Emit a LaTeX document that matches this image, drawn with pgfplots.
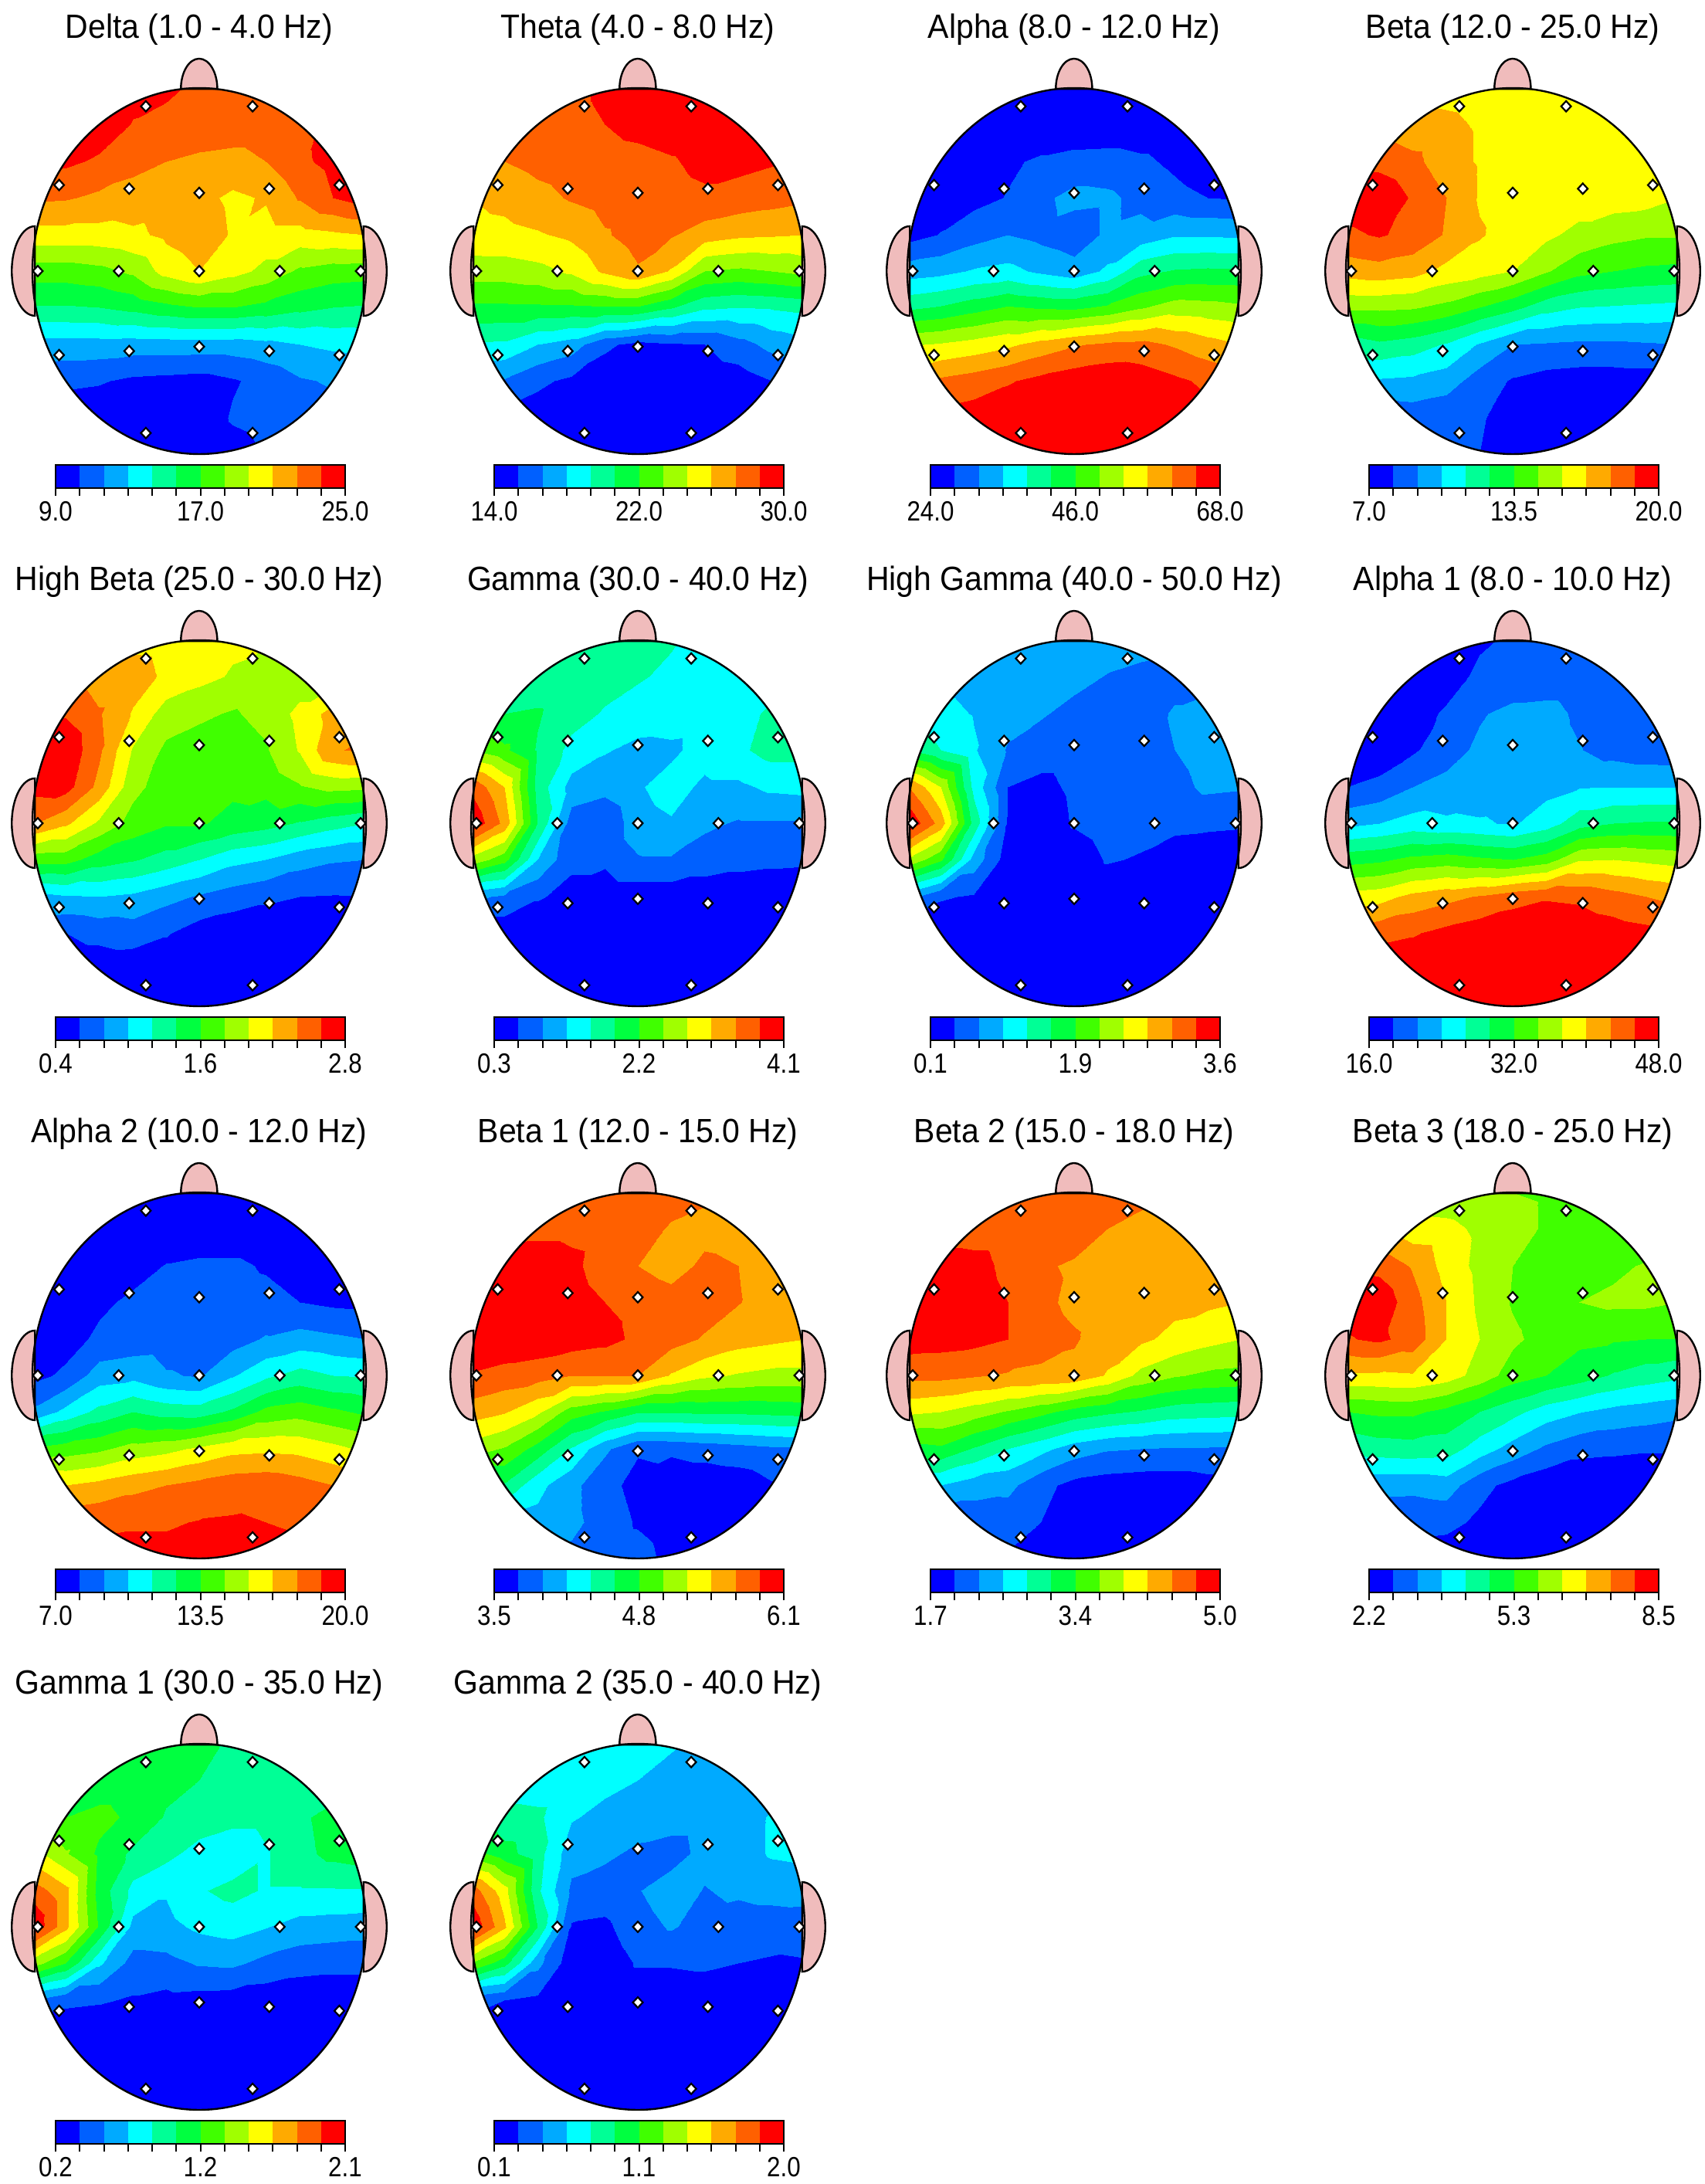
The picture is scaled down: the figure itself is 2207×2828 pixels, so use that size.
\documentclass[border=0pt]{standalone}
\usepackage{fontspec}
\setmainfont{Liberation Sans}
\usepackage{pgfplots}
\pgfplotsset{compat=1.18}

\definecolor{c0}{RGB}{0,0,255}
\definecolor{c1}{RGB}{0,96,255}
\definecolor{c2}{RGB}{0,170,255}
\definecolor{c3}{RGB}{0,255,255}
\definecolor{c4}{RGB}{0,255,150}
\definecolor{c5}{RGB}{0,255,64}
\definecolor{c6}{RGB}{64,255,0}
\definecolor{c7}{RGB}{160,255,0}
\definecolor{c8}{RGB}{255,255,0}
\definecolor{c9}{RGB}{255,170,0}
\definecolor{c10}{RGB}{255,96,0}
\definecolor{c11}{RGB}{255,0,0}
\definecolor{skin}{RGB}{240,188,188}

\pgfplotsset{
  colormap={eeg}{color=(c0) color=(c1) color=(c2) color=(c3) color=(c4) color=(c5)
    color=(c6) color=(c7) color=(c8) color=(c9) color=(c10) color=(c11)},
}

% grid goes row by row from y=1 down to y=-1, x=-1..1, step .2, values in colour bins 0..12
\newcommand\gridcoords[1]{%
  \gdef\cl{}%
  \foreach \v [count=\i from 0] in {#1}{%
    \pgfmathtruncatemacro\ix{mod(\i,11)}%
    \pgfmathtruncatemacro\iy{floor(\i/11)}%
    \pgfmathsetmacro\xx{-1+.2*\ix}%
    \pgfmathsetmacro\yy{1-.2*\iy}%
    \xdef\cl{\cl(\xx,\yy)[\v]}%
  }}

\newcommand\seg[2]{\addplot[draw=none,fill=c#1,forget plot] coordinates {(#1,0)(#1,1)(#2,1)(#2,0)} --cycle;}

% #1 cx, #2 cy (px from the bottom), #3 title, #4 #5 #6 bar labels, #7 grid
\newcommand\head[7]{%
  \gridcoords{#7}%
  \begin{axis}[at={({(#1)*.25pt},{(#2)*.25pt})},anchor=center,scale only axis,width=108pt,height=118.5pt,
    xmin=-1,xmax=1,ymin=-1,ymax=1,hide axis,clip=false,colormap name=eeg,
    point meta min=0,point meta max=12]
    \edef\tmp{\noexpand\addplot[contour filled={number=12},point meta=explicit,mesh/rows=11,mesh/cols=11] coordinates {\cl};}\tmp
    \fill[white,even odd rule] (axis cs:-1.03,-1.03) rectangle (axis cs:1.03,1.03) (axis cs:0,0) ellipse[x radius=54pt,y radius=59.25pt];
    \draw[fill=skin,line width=.6pt] (axis cs:-.985,.245) arc[start angle=90,end angle=270,x radius=7.5pt,y radius=14.5pt] --cycle;
    \draw[fill=skin,line width=.6pt] (axis cs:.985,-.245) arc[start angle=-90,end angle=90,x radius=7.5pt,y radius=14.5pt] --cycle;
    \draw[fill=skin,line width=.6pt] (axis cs:-.11,.995) arc[start angle=180,end angle=0,x radius=5.9pt,y radius=9.8pt] --cycle;
    \draw[line width=.6pt] (axis cs:0,0) ellipse[x radius=54pt,y radius=59.25pt];
    \addplot[only marks,mark=diamond*,mark size=1.7pt,mark options={fill=white,draw=black,line width=.55pt,xscale=1.25}] coordinates {
      (-.32,.9)(.32,.9)
      (-.84,.47)(-.42,.45)(0,.427)(.42,.45)(.84,.47)
      (-.968,0)(-.483,0)(0,0)(.483,0)(.968,0)
      (-.84,-.459)(-.42,-.437)(0,-.413)(.42,-.437)(.84,-.459)
      (-.32,-.885)(.32,-.885)};
  \end{axis}
  \begin{axis}[at={({(#1-186)*.25pt},{(#2-281)*.25pt})},anchor=south west,scale only axis,width=93.75pt,height=7.5pt,
    xmin=0,xmax=12,ymin=0,ymax=1,clip=false,axis on top,axis line style={line width=.7pt},
    ytick=\empty,xtick={0,...,12},
    xticklabels={#4,,,,,,#5,,,,,,#6},
    tick style={black,line width=.5pt},
    tick align=outside,xtick pos=bottom,major tick length=2.6pt,
    xticklabel style={font=\fontsize{9}{9}\selectfont,xscale=.87,yshift=1.7pt}]
    \seg{0}{1}\seg{1}{2}\seg{2}{3}\seg{3}{4}\seg{4}{5}\seg{5}{6}
    \seg{6}{7}\seg{7}{8}\seg{8}{9}\seg{9}{10}\seg{10}{11}\seg{11}{12}
  \end{axis}
  \node[font=\fontsize{10.9}{11}\selectfont,xscale=.94] at (#1,#2+313) {#3};
}

\begin{document}
\begin{tikzpicture}[x=.25pt,y=.25pt]
\useasboundingbox (0,0) rectangle (2207,2828);
\head{258}{2477}{Delta (1.0 - 4.0 Hz)}{9.0}{17.0}{25.0}{
11.5,11.4,11.3,11.3,11.2,10.8,10.5,10.5,10.5,10.5,10.5,
11.6,11.6,11.6,10.95,10.7,10.6,10.5,10.5,10.5,11.4,11.6,
11.4,11.2,10.85,10.3,10.0,9.8,9.7,10.0,10.8,11.3,11.5,
10.2,10.1,9.8,9.6,9.4,9.3,8.8,9.1,10.1,11.0,11.5,
8.6,8.6,8.6,8.8,9.2,9.6,8.9,8.6,8.6,8.8,9.0,
6.5,6.5,6.7,7.2,8.4,9.0,8.4,7.7,6.8,6.5,6.4,
4.9,4.9,5.0,5.3,5.7,6.0,6.0,5.7,5.3,5.0,4.9,
2.6,2.6,2.6,2.5,2.5,2.5,2.5,2.7,3.0,3.2,3.3,
1.3,1.2,1.1,0.8,0.7,0.6,0.9,1.3,1.9,2.1,2.3,
0.4,0.4,0.3,0.2,0.2,0.4,1.1,1.3,1.5,1.6,1.7,
0.2,0.2,0.2,0.2,0.2,0.2,0.6,1.1,1.3,1.3,1.3}
\head{826}{2477}{Theta (4.0 - 8.0 Hz)}{14.0}{22.0}{30.0}{
10.6,10.6,10.7,10.8,11.2,11.5,11.6,11.6,11.6,11.6,11.6,
10.4,10.4,10.5,10.7,11.0,11.3,11.5,11.6,11.6,11.6,11.6,
9.8,10.0,10.3,10.5,10.6,10.7,10.9,11.3,11.3,11.1,11.0,
9.0,9.3,9.7,10.1,10.4,10.5,10.6,10.8,10.6,10.4,10.2,
8.6,8.7,8.9,9.2,9.9,10.4,10.1,9.5,9.2,9.1,9.0,
7.5,7.5,7.7,8.2,9.2,9.9,8.9,7.0,6.8,7.0,7.3,
5.8,5.8,5.8,5.8,5.9,5.9,5.1,4.2,4.0,4.1,4.3,
3.9,3.8,3.0,2.5,1.2,0.7,0.9,1.0,1.6,2.3,2.7,
2.0,1.9,1.2,0.8,0.4,0.3,0.3,0.3,0.5,1.0,1.3,
1.0,0.8,0.5,0.3,0.2,0.2,0.2,0.2,0.2,0.4,0.6,
0.2,0.2,0.2,0.2,0.2,0.2,0.2,0.2,0.2,0.2,0.2}
\head{1391}{2477}{Alpha (8.0 - 12.0 Hz)}{24.0}{46.0}{68.0}{
0.3,0.3,0.3,0.3,0.3,0.3,0.3,0.3,0.3,0.3,0.3,
0.3,0.3,0.3,0.3,0.3,0.3,0.3,0.3,0.3,0.3,0.3,
0.2,0.3,0.5,0.85,1.15,1.35,1.4,1.2,0.8,0.4,0.3,
0.4,0.5,0.7,1.05,1.8,2.3,2.2,1.7,1.3,1.0,0.9,
0.6,1.05,1.6,2.0,1.7,1.4,2.2,2.4,2.9,2.9,2.8,
2.5,2.7,3.1,3.3,2.8,2.4,3.2,4.7,5.1,5.2,5.2,
4.8,5.1,5.6,6.1,5.9,5.8,6.2,6.9,7.5,7.4,7.2,
7.9,8.1,8.4,8.8,9.4,9.9,10.2,10.3,9.9,9.4,9.0,
9.7,10.2,10.5,10.9,11.3,11.6,11.8,11.6,11.2,10.8,10.6,
11.3,11.3,11.5,11.7,11.7,11.7,11.7,11.7,11.7,11.5,11.3,
11.7,11.7,11.7,11.7,11.7,11.7,11.7,11.7,11.7,11.7,11.7}
\head{1959}{2477}{Beta (12.0 - 25.0 Hz)}{7.0}{13.5}{20.0}{
8.9,8.9,8.8,8.7,8.6,8.5,8.5,8.5,8.5,8.5,8.5,
9.4,9.4,9.3,9.2,8.9,8.6,8.5,8.5,8.5,8.5,8.5,
10.8,10.7,10.3,9.4,8.9,8.6,8.5,8.5,8.5,8.5,8.5,
11.8,11.7,10.9,10.0,8.9,8.6,8.5,8.5,8.5,8.4,8.0,
10.8,11.1,10.7,9.9,9.1,8.5,8.2,7.7,7.3,7.1,7.1,
9.4,9.6,9.4,8.7,8.4,8.0,7.1,6.3,6.0,5.8,5.7,
7.2,7.2,7.1,6.7,6.0,5.3,4.4,4.0,3.9,3.8,3.7,
4.4,4.8,4.5,3.9,2.9,2.0,1.9,1.8,1.8,1.9,2.0,
2.9,2.9,2.8,2.5,1.5,0.9,0.6,0.5,0.5,0.5,0.7,
1.2,1.3,1.4,1.2,1.1,0.6,0.3,0.3,0.3,0.3,0.3,
1.1,1.1,1.1,1.0,1.0,0.6,0.3,0.2,0.2,0.2,0.2}
\head{258}{1762}{High Beta (25.0 - 30.0 Hz)}{0.4}{1.6}{2.8}{
8.6,8.6,8.6,8.7,8.6,8.4,8.2,8.1,8.1,8.1,8.1,
9.5,9.5,9.5,9.5,8.8,8.3,7.9,7.6,7.4,7.4,7.4,
11.0,10.9,10.1,8.9,7.5,7.2,6.9,7.3,8.3,9.4,9.6,
11.8,11.8,10.2,7.9,6.8,6.5,6.5,6.9,8.1,9.9,10.2,
11.3,11.4,9.7,7.3,6.5,6.3,6.2,6.3,6.9,7.3,7.2,
10.1,9.2,7.8,6.6,6.1,6.1,5.7,5.4,4.9,4.4,4.0,
6.5,6.4,5.5,5.1,4.6,4.0,3.3,3.0,2.4,2.1,2.0,
2.6,2.9,3.0,2.8,2.3,1.9,1.5,1.2,1.0,0.95,1.0,
1.2,1.0,1.3,1.5,1.1,0.5,0.3,0.3,0.3,0.3,0.3,
0.5,0.4,0.4,0.3,0.3,0.2,0.2,0.2,0.2,0.2,0.2,
0.2,0.2,0.2,0.2,0.2,0.2,0.2,0.2,0.2,0.2,0.2}
\head{826}{1762}{Gamma (30.0 - 40.0 Hz)}{0.3}{2.2}{4.1}{
4.4,4.4,4.4,4.4,4.4,4.4,4.1,3.7,3.5,3.5,3.5,
4.5,4.5,4.5,4.5,4.4,4.1,3.8,3.6,3.5,3.5,3.5,
5.0,5.0,5.1,4.4,3.9,3.6,3.5,3.4,3.6,4.2,4.4,
7.0,6.2,4.9,3.7,3.1,2.7,2.8,3.4,3.8,4.4,4.4,
10.8,9.0,4.6,2.6,2.3,2.9,3.4,2.8,2.8,3.2,3.3,
11.9,9.7,5.0,1.5,1.2,2.6,2.9,2.2,1.9,1.9,1.9,
7.7,6.4,3.0,1.2,1.2,1.9,1.9,1.5,1.3,1.2,1.15,
2.3,1.8,1.1,0.7,0.4,0.4,0.4,0.4,0.4,0.4,0.4,
0.3,0.3,0.3,0.3,0.3,0.2,0.2,0.2,0.2,0.2,0.2,
0.2,0.2,0.2,0.2,0.2,0.2,0.2,0.2,0.2,0.2,0.2,
0.2,0.2,0.2,0.2,0.2,0.2,0.2,0.2,0.2,0.2,0.2}
\head{1391}{1762}{High Gamma (40.0 - 50.0 Hz)}{0.1}{1.9}{3.6}{
2.6,2.6,2.6,2.6,2.6,2.6,2.5,2.3,2.2,2.1,2.1,
2.6,2.6,2.6,2.6,2.5,2.3,1.95,1.8,1.7,1.7,1.7,
3.4,3.3,2.95,2.4,2.1,1.7,1.6,1.6,2.1,2.3,2.3,
5.0,4.0,3.1,1.9,1.5,1.5,1.5,1.6,2.0,2.4,2.4,
10.1,8.0,3.7,1.0,0.7,1.2,1.5,1.5,1.7,2.2,2.1,
11.9,9.6,4.6,0.9,0.4,1.1,1.5,1.4,1.2,1.15,1.1,
7.9,6.2,2.6,0.5,0.3,0.4,1.1,0.9,0.6,0.5,0.4,
2.4,1.1,0.9,0.3,0.2,0.2,0.2,0.2,0.2,0.2,0.2,
0.5,0.3,0.2,0.2,0.2,0.2,0.2,0.2,0.2,0.2,0.2,
0.2,0.2,0.2,0.2,0.2,0.2,0.2,0.2,0.2,0.2,0.2,
0.2,0.2,0.2,0.2,0.2,0.2,0.2,0.2,0.2,0.2,0.2}
\head{1959}{1762}{Alpha 1 (8.0 - 10.0 Hz)}{16.0}{32.0}{48.0}{
0.6,0.6,0.6,0.7,0.9,1.1,1.2,1.2,1.2,1.2,1.2,
0.4,0.5,0.5,0.7,1.15,1.3,1.3,1.3,1.2,1.2,1.2,
0.3,0.4,0.7,1.1,1.9,2.3,2.4,1.8,1.4,1.3,1.2,
0.2,0.3,0.85,1.6,2.2,2.5,2.5,2.05,1.6,1.4,1.3,
1.0,1.3,2.0,2.3,2.5,2.6,2.7,2.95,3.0,3.0,3.0,
2.7,3.0,3.4,3.2,3.1,2.9,3.5,4.6,5.0,5.1,5.1,
5.6,5.8,6.3,6.5,6.2,6.0,6.5,7.9,8.0,7.8,7.6,
8.4,8.6,9.3,9.7,10.1,10.6,10.9,10.8,10.4,10.0,9.7,
10.4,10.7,10.9,11.3,11.6,11.8,11.8,11.7,11.5,11.3,11.1,
11.7,11.7,11.7,11.7,11.7,11.7,11.7,11.7,11.7,11.7,11.7,
11.7,11.7,11.7,11.7,11.7,11.7,11.7,11.7,11.7,11.7,11.7}
\head{258}{1047}{Alpha 2 (10.0 - 12.0 Hz)}{7.0}{13.5}{20.0}{
0.3,0.3,0.3,0.3,0.3,0.3,0.3,0.3,0.3,0.3,0.3,
0.3,0.3,0.3,0.3,0.3,0.3,0.3,0.3,0.3,0.3,0.3,
0.2,0.2,0.3,0.6,1.05,1.2,1.2,0.9,0.6,0.4,0.3,
0.3,0.5,0.8,1.2,1.4,1.5,1.4,1.3,1.0,0.8,0.7,
0.3,0.6,1.2,1.4,1.5,1.5,1.6,2.1,2.4,2.2,2.0,
0.7,1.2,2.5,2.7,2.1,1.9,2.9,3.8,4.4,4.0,3.9,
2.2,3.3,4.3,5.0,4.6,4.5,5.2,6.3,6.6,6.2,5.8,
6.1,6.5,6.8,7.4,7.7,8.2,8.7,8.8,8.7,8.3,7.8,
9.2,9.0,9.3,9.7,10.0,10.3,10.6,10.7,10.4,10.0,9.8,
10.6,10.6,10.8,10.9,10.9,11.05,11.1,11.0,10.9,10.8,10.7,
11.3,11.3,11.3,11.3,11.3,11.3,11.3,11.3,11.3,11.3,11.3}
\head{826}{1047}{Beta 1 (12.0 - 15.0 Hz)}{3.5}{4.8}{6.1}{
10.6,10.6,10.6,10.6,10.5,10.5,10.4,10.2,10.0,9.8,9.8,
10.7,10.7,10.8,10.8,10.7,10.4,9.9,9.7,9.6,9.6,9.6,
11.4,11.4,11.4,11.2,10.6,10.0,9.6,10.2,10.0,9.6,9.4,
11.8,11.8,11.7,11.4,11.0,10.7,10.4,10.5,10.05,9.6,9.4,
11.8,11.8,11.7,11.5,11.3,10.8,10.4,9.9,9.4,9.2,9.0,
10.9,10.6,10.4,10.0,10.0,10.0,8.9,8.2,7.9,7.7,7.7,
9.5,9.1,8.2,6.5,5.9,5.1,5.1,5.2,5.2,5.3,5.4,
7.5,6.9,5.6,3.9,2.2,1.1,1.2,1.4,1.6,1.8,1.9,
5.0,4.9,3.3,2.3,1.3,0.7,0.3,0.3,0.4,0.9,1.1,
2.9,2.9,2.7,2.3,1.5,0.9,0.5,0.3,0.3,0.3,0.3,
2.0,2.0,1.9,1.7,1.5,1.4,0.7,0.3,0.2,0.2,0.2}
\head{1391}{1047}{Beta 2 (15.0 - 18.0 Hz)}{1.7}{3.4}{5.0}{
10.5,10.5,10.5,10.5,10.5,10.5,10.4,10.3,10.1,10.0,10.0,
10.6,10.6,10.6,10.6,10.6,10.4,10.0,9.7,9.5,9.5,9.5,
11.4,11.4,11.3,10.8,10.1,9.9,9.6,9.5,9.4,9.4,9.4,
11.8,11.7,11.4,11.0,10.2,9.8,9.6,9.5,9.3,9.2,9.0,
11.5,11.4,11.3,11.0,10.4,10.1,9.5,9.2,8.7,8.3,8.0,
10.3,10.3,10.1,9.9,9.8,9.7,8.9,7.7,7.1,6.8,6.7,
8.2,8.0,7.5,6.9,6.3,5.6,5.2,4.9,4.5,4.4,4.3,
5.6,5.8,4.9,4.0,3.3,2.5,2.1,2.0,1.9,1.9,1.9,
3.2,3.0,2.5,2.3,1.3,0.7,0.5,0.4,0.4,0.6,0.6,
1.3,1.3,1.3,1.4,1.0,0.4,0.3,0.3,0.3,0.3,0.3,
1.2,1.2,1.2,0.9,0.5,0.3,0.3,0.3,0.3,0.3,0.3}
\head{1959}{1047}{Beta 3 (18.0 - 25.0 Hz)}{2.2}{5.3}{8.5}{
7.3,7.3,7.3,7.3,7.1,7.0,6.9,6.7,6.4,6.3,6.3,
8.5,8.5,8.4,8.3,7.8,7.3,6.9,6.4,6.2,6.2,6.2,
11.0,10.7,9.9,8.6,7.7,7.0,6.6,6.5,6.8,7.1,7.1,
11.9,11.7,10.4,9.0,7.8,6.9,6.4,7.0,7.2,7.2,7.0,
10.9,11.2,10.6,9.0,8.0,7.2,6.6,6.2,6.1,6.0,6.0,
8.8,8.8,8.9,8.5,7.6,6.5,6.0,5.5,4.9,4.5,4.2,
6.0,6.2,6.2,5.7,5.0,4.3,3.5,3.05,2.7,2.5,2.3,
4.2,4.5,4.6,4.5,3.5,2.6,1.8,1.3,1.2,1.1,1.1,
2.4,2.3,2.3,2.5,1.3,0.7,0.3,0.2,0.2,0.2,0.2,
1.3,1.3,1.2,1.3,0.8,0.3,0.2,0.2,0.2,0.2,0.2,
0.5,0.5,0.5,0.4,0.2,0.2,0.2,0.2,0.2,0.2,0.2}
\head{258}{333}{Gamma 1 (30.0 - 35.0 Hz)}{0.2}{1.2}{2.1}{
5.2,5.2,5.2,5.2,5.2,5.2,4.9,4.3,4.2,4.2,4.2,
5.4,5.4,5.4,5.4,5.3,5.0,4.6,4.3,4.2,4.3,4.3,
5.9,6.0,6.3,5.8,4.9,4.6,4.3,4.3,4.8,5.4,5.5,
8.4,7.1,5.8,4.8,4.3,3.6,3.3,3.9,4.7,5.3,5.5,
10.6,9.3,5.6,3.7,3.1,3.9,4.3,3.9,3.9,3.9,3.9,
11.9,9.3,5.9,2.7,2.7,3.2,3.4,3.05,2.6,2.5,2.4,
7.5,6.0,3.2,1.6,1.7,2.1,2.2,1.7,1.4,1.3,1.3,
2.0,1.2,1.1,0.9,0.7,0.6,0.5,0.4,0.3,0.3,0.3,
0.3,0.3,0.3,0.2,0.2,0.2,0.2,0.2,0.2,0.2,0.2,
0.2,0.2,0.2,0.2,0.2,0.2,0.2,0.2,0.2,0.2,0.2,
0.2,0.2,0.2,0.2,0.2,0.2,0.2,0.2,0.2,0.2,0.2}
\head{826}{333}{Gamma 2 (35.0 - 40.0 Hz)}{0.1}{1.1}{2.0}{
3.5,3.5,3.5,3.5,3.5,3.4,3.1,2.8,2.6,2.6,2.6,
3.5,3.5,3.5,3.5,3.3,3.0,2.7,2.5,2.5,2.5,2.5,
4.3,4.3,4.2,3.1,2.7,2.5,2.4,2.4,2.5,3.1,3.3,
6.5,5.4,4.4,2.4,2.2,1.8,1.6,2.3,2.6,3.1,3.2,
10.6,8.4,4.2,1.8,1.5,1.95,2.5,1.95,2.2,2.4,2.5,
11.9,9.2,5.0,0.9,0.8,1.6,2.1,1.6,1.4,1.4,1.3,
7.0,5.4,2.3,0.4,0.4,1.1,1.1,1.2,1.0,0.9,0.95,
1.5,1.0,0.8,0.4,0.3,0.3,0.3,0.3,0.3,0.3,0.3,
0.2,0.2,0.2,0.2,0.2,0.2,0.2,0.2,0.2,0.2,0.2,
0.2,0.2,0.2,0.2,0.2,0.2,0.2,0.2,0.2,0.2,0.2,
0.2,0.2,0.2,0.2,0.2,0.2,0.2,0.2,0.2,0.2,0.2}
\end{tikzpicture}
\end{document}
